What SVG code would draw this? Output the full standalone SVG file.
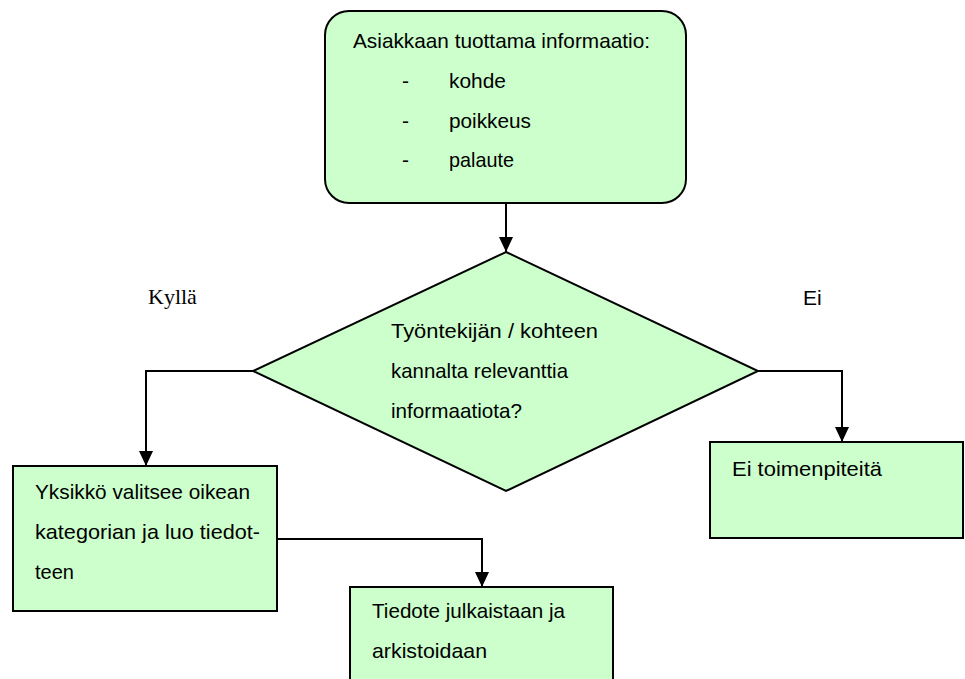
<svg xmlns="http://www.w3.org/2000/svg" width="965" height="679" viewBox="0 0 965 679">
  <style>
    .node { fill: #ccffcc; stroke: #000; stroke-width: 2; }
    .lbl { font-family: "Liberation Sans", Arial, sans-serif; font-size: 21px; fill: #000; }
    .edge { fill: none; stroke: #000; stroke-width: 2; }
    .serif { font-family: "Liberation Serif", "Times New Roman", serif; font-size: 22px; fill: #000; }
  </style>
  <defs>
    <marker id="arrow" markerWidth="15" markerHeight="14" refX="15" refY="7" orient="auto" markerUnits="userSpaceOnUse" viewBox="0 0 15 14">
      <path d="M0,0 L15,7 L0,14 z" fill="#000"/>
    </marker>
  </defs>
  <rect width="965" height="679" fill="#fff"/>

  <g id="connectors">
    <path class="edge" d="M506,203 V252" marker-end="url(#arrow)"/>
    <path class="edge" d="M253,371 H146 V466" marker-end="url(#arrow)"/>
    <path class="edge" d="M758,371 H842 V442" marker-end="url(#arrow)"/>
    <path class="edge" d="M277,539 H482 V587" marker-end="url(#arrow)"/>
  </g>

  <g id="source">
    <rect class="node" x="325" y="11" width="361" height="192" rx="24" ry="24"/>
    <text class="lbl" x="353" y="48" textLength="297" lengthAdjust="spacingAndGlyphs">Asiakkaan tuottama informaatio:</text>
    <text class="lbl" x="402" y="88">-</text>
    <text class="lbl" x="449" y="88" textLength="57" lengthAdjust="spacingAndGlyphs">kohde</text>
    <text class="lbl" x="402" y="128">-</text>
    <text class="lbl" x="449" y="128" textLength="82" lengthAdjust="spacingAndGlyphs">poikkeus</text>
    <text class="lbl" x="402" y="167">-</text>
    <text class="lbl" x="449" y="167" textLength="65" lengthAdjust="spacingAndGlyphs">palaute</text>
  </g>

  <g id="decision">
    <polygon class="node" points="506,252 758,371 506,491 253,371"/>
    <text class="lbl" x="391" y="338" textLength="207" lengthAdjust="spacingAndGlyphs">Työntekijän / kohteen</text>
    <text class="lbl" x="391" y="378" textLength="177" lengthAdjust="spacingAndGlyphs">kannalta relevanttia</text>
    <text class="lbl" x="391" y="418" textLength="131" lengthAdjust="spacingAndGlyphs">informaatiota?</text>
  </g>

  <g id="label-yes">
    <text class="serif" x="148" y="304">Kyllä</text>
  </g>
  <g id="label-no">
    <text class="lbl" x="803" y="305" font-size="18">Ei</text>
  </g>

  <g id="create">
    <rect class="node" x="13" y="466" width="264" height="145"/>
    <text class="lbl" x="35" y="499" textLength="215" lengthAdjust="spacingAndGlyphs">Yksikkö valitsee oikean</text>
    <text class="lbl" x="35" y="539" textLength="225" lengthAdjust="spacingAndGlyphs">kategorian ja luo tiedot-</text>
    <text class="lbl" x="35" y="579" textLength="39" lengthAdjust="spacingAndGlyphs">teen</text>
  </g>

  <g id="publish">
    <rect class="node" x="350" y="587" width="263" height="100"/>
    <text class="lbl" x="372" y="618" textLength="193" lengthAdjust="spacingAndGlyphs">Tiedote julkaistaan ja</text>
    <text class="lbl" x="372" y="658" textLength="115" lengthAdjust="spacingAndGlyphs">arkistoidaan</text>
  </g>

  <g id="no-action">
    <rect class="node" x="710" y="442" width="253" height="96"/>
    <text class="lbl" x="732" y="476" textLength="150" lengthAdjust="spacingAndGlyphs">Ei toimenpiteitä</text>
  </g>
</svg>
